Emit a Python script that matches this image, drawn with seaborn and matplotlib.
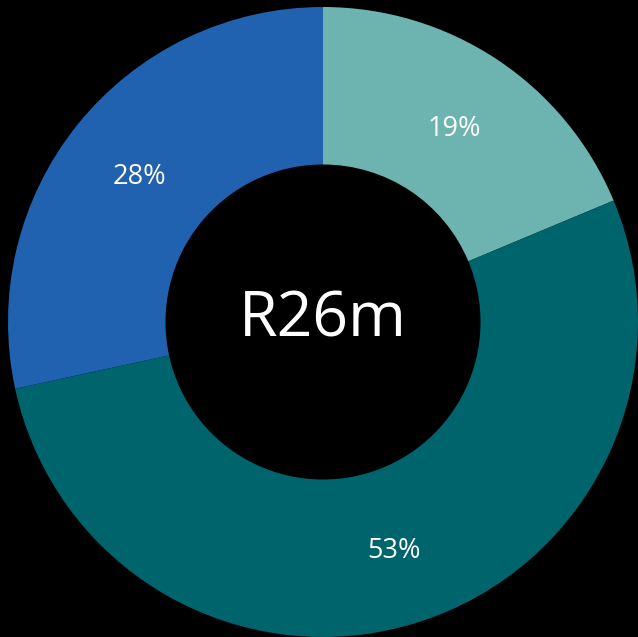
import matplotlib.pyplot as plt
import seaborn as sns

# donut shares
labels = ["A", "B", "C"]
shares = [18.7, 52.9, 28.4]
colors = ["#6db4b0", "#00646c", "#2061b0"]
center_text = "R26m"

sns.set_theme(style="white")
plt.rcParams['font.family'] = ['Open Sans', 'DejaVu Sans']

fig = plt.figure(figsize=(6.38, 6.37), dpi=100, facecolor="black")
ax = fig.add_axes([8 / 638, 0, 630 / 638, 630 / 637])
ax.set_facecolor("black")

wedges, texts, autotexts = ax.pie(
    shares, colors=colors, startangle=90, counterclock=False,
    autopct=lambda p: f"{p:.0f}%", pctdistance=0.75, radius=1,
    wedgeprops=dict(width=0.5, linewidth=0),
    textprops=dict(color="white", fontsize=19.5),
)
# nudge labels down a touch to sit like the original
for t in autotexts:
    x, y = t.get_position()
    t.set_position((x, y - 0.012))

ax.text(0, -0.045, center_text, color="white", fontsize=45,
        ha="center", va="baseline")
ax.set_xlim(-1, 1)
ax.set_ylim(-1, 1)
ax.set_aspect("equal")
ax.axis("off")

fig.savefig("out.png", dpi=100, facecolor="black")
